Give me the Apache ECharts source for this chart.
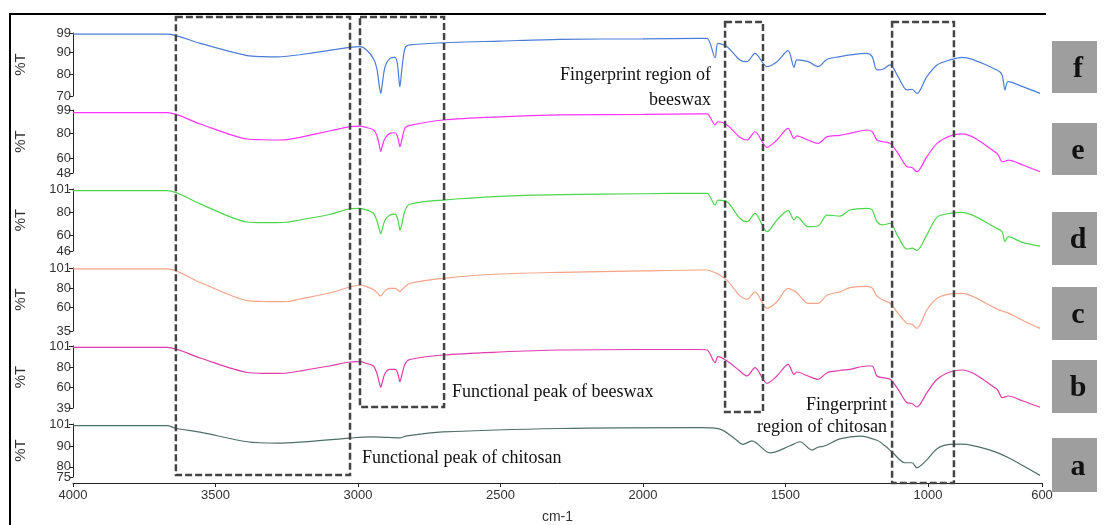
<!DOCTYPE html>
<html>
<head>
<meta charset="utf-8">
<script src="https://cdn.jsdelivr.net/npm/echarts@6/dist/echarts.min.js"></script>
<style>
html,body{margin:0;padding:0;background:#fff;}
#c{width:1110px;height:525px;}
</style>
</head>
<body>
<div id="c"></div>
<script>
// ---- data ----
const wn = [4000,3670,3554,3389,3333,3284,3249,3204,3100,3028,2993,2970,2946,2934,2925,2920,2916,2905,2888,2870,2862,2855,2853,2847,2835,2818,2702,2502,2291,2000,1800,1775,1747,1737,1705,1660,1635,1607,1565,1530,1491,1470,1460,1421,1386,1354,1309,1274,1214,1196,1179,1158,1133,1105,1074,1056,1039,1004,968,923,881,758,740,730,719,667,607];
const specF = [98.5,98.5,94.2,88.6,88.1,88.0,88.3,89.0,91.0,92.4,92.7,91.2,87.3,82.7,74.3,71.2,74.3,83.5,87.3,87.8,85.0,75.8,74.3,81.2,92.0,93.5,94.5,95.3,96.1,96.3,96.5,96.5,87.6,94.2,92.7,86.6,85.8,89.6,83.5,85.8,90.9,83.2,86.6,85.8,83.5,86.9,88.1,88.9,89.6,88.1,82.0,82.3,84.3,78.9,72.8,73.1,71.2,78.9,84.3,86.6,87.8,82.0,79.7,72.8,76.6,74.3,71.2];
const specE = [96.8,96.8,87.7,75.5,74.9,74.7,75.0,76.9,82.0,85.5,86.0,84.8,83.0,78.5,70.0,65.3,69.0,76.1,80.1,80.6,78.0,71.0,69.3,74.0,84.5,86.5,90.9,93.5,95.0,95.5,95.8,95.8,86.9,89.5,86.9,77.0,74.7,81.4,68.8,74.7,84.2,76.1,78.0,74.7,72.0,77.4,78.5,80.1,82.8,81.5,74.7,73.3,72.0,63.9,53.1,52.5,49.0,61.2,72.0,78.0,79.6,63.9,57.1,57.5,58.5,54.5,49.0];
const specD = [99.5,99.5,87.8,71.7,71.1,71.1,71.5,73.5,78.4,83.5,83.9,82.5,79.5,73.0,65.0,61.1,64.5,73.5,77.9,78.8,75.5,67.0,64.6,69.0,82.0,87.5,91.2,94.5,96.0,96.8,97.2,97.2,86.8,91.2,89.7,75.0,72.0,79.4,63.1,73.5,81.8,73.5,76.5,67.6,68.2,77.9,77.0,82.4,83.9,82.4,72.0,69.1,70.6,58.8,47.6,48.5,46.5,60.3,76.0,79.4,80.3,66.1,63.1,54.3,58.7,53.4,50.4];
const specC = [100.0,100.0,85.8,66.9,65.9,65.7,65.9,68.5,74.8,81.1,83.2,81.5,78.5,75.5,72.5,71.7,72.8,77.3,79.7,79.7,78.5,76.8,76.2,78.0,81.4,85.0,90.2,94.7,96.5,98.0,98.9,98.9,96.0,94.7,88.0,72.0,68.2,76.0,58.8,65.7,79.7,77.0,75.1,64.0,64.0,72.7,76.0,80.5,81.8,80.0,71.5,67.5,64.0,53.5,43.0,42.0,37.8,57.0,69.2,73.8,74.5,58.0,56.0,55.0,54.0,46.0,37.8];
const specB = [99.7,99.7,89.0,74.5,73.7,73.7,74.0,76.0,81.0,85.0,85.3,83.5,81.0,74.0,64.0,59.7,63.5,73.7,77.7,77.7,75.0,67.0,65.3,71.0,83.0,87.5,92.0,95.0,97.0,97.5,97.5,97.0,84.3,90.3,86.0,76.0,71.0,79.3,63.7,71.0,82.7,72.7,75.0,71.0,67.7,74.3,76.5,77.7,81.0,81.0,71.0,69.3,67.7,57.7,44.3,43.5,40.0,54.3,67.7,75.0,77.0,57.7,49.3,50.0,51.0,46.0,39.8];
const wnA = [4000,3670,3639,3554,3389,3284,3204,3028,2958,2920,2853,2828,2702,2291,1800,1730,1677,1649,1618,1554,1484,1449,1407,1386,1361,1309,1239,1179,1151,1123,1081,1056,1039,1004,968,923,881,782,712,660,607];
const specA = [100.2,100.2,98.9,97.0,92.3,91.6,92.1,94.1,94.7,94.6,94.2,95.2,97.1,98.8,99.2,98.5,93.7,91.0,92.7,86.8,90.3,92.3,88.2,89.6,90.3,93.7,95.1,93.0,90.3,86.8,82.0,82.0,79.5,83.4,88.9,91.0,91.1,88.2,84.1,80.0,75.8];

const panelLetters = ['f','e','d','c','b','a'];
const yMins = [70,48,46,35,39,75];
const yMaxs = [99,99,101,101,101,101];
const yTicks = [[99,90,80,70],[99,80,60,48],[101,80,60,46],[101,80,60,35],[101,80,60,39],[101,90,80,75]];
const xTicks = [4000,3500,3000,2500,2000,1500,1000,600];
const xName = 'cm-1';
const yName = '%T';
const noteTexts = {
  beeswaxFp: ['Fingerprint region of', 'beeswax'],
  beeswaxFn: 'Functional peak of beeswax',
  chitosanFn: 'Functional peak of chitosan',
  chitosanFp: ['Fingerprint', 'region of chitosan']
};
// regions (wavenumber) for dashed boxes
const regions = [[3639,3028],[2993,2698],[1712,1579],[1126,909]];

// ---- layout / style ----
const colors = ['#4a7cd8','#ff33ff','#4cd64c','#f4a488','#e03aaa','#4f6f6a'];
const gridTops = [33,110,189,268,346,424];
const gridHeights = [63,63,62,63,62,63];
const seriesData = [specF,specE,specD,specC,specB].map(v => wn.map((w,i)=>[w,v[i]]));
seriesData.push(wnA.map((w,i)=>[w,specA[i]]));

const chart = echarts.init(document.getElementById('c'), null, {renderer:'canvas'});
const grids=[], xAxes=[], yAxes=[], series=[];
const labelFont = {fontFamily:'Liberation Sans, Arial', fontSize:13, color:'#333'};
for (let i=0;i<6;i++){
  grids.push({left:73, width:969, top:gridTops[i], height:gridHeights[i]});
  const last = i===5;
  xAxes.push({
    type:'value', gridIndex:i, min:600, max:4000, inverse:true, show:last,
    offset:6,
    name: last? xName:'', nameLocation:'middle', nameGap:27,
    nameTextStyle:{fontFamily:'Liberation Sans, Arial', fontSize:14, color:'#333'},
    axisLine:{show:true, lineStyle:{color:'#222', width:1}},
    axisTick:{show:true, length:4, lineStyle:{color:'#222'}, customValues:xTicks},
    axisLabel:Object.assign({margin:6, customValues:xTicks, formatter: v => String(v)}, labelFont),
    splitLine:{show:false}
  });
  const mainTicks = yTicks[i].filter(v => v !== yMins[i]);
  const minTick = yTicks[i].filter(v => v === yMins[i]);
  // main axis (all ticks except the bottom one)
  yAxes.push({
    type:'value', gridIndex:i, min:yMins[i], max:yMaxs[i],
    name:yName, nameLocation:'middle', nameRotate:90, nameGap:45,
    nameTextStyle:{fontFamily:'Liberation Sans, Arial', fontSize:15, color:'#333'},
    axisLine:{show:true, lineStyle:{color:'#222', width:1}},
    axisTick:{show:true, length:4, lineStyle:{color:'#222'}, customValues:mainTicks},
    axisLabel:Object.assign({margin:2, customValues:mainTicks, showMinLabel:true, showMaxLabel:true, formatter: v => String(v)}, labelFont),
    splitLine:{show:false}
  });
  series.push({
    type:'line', xAxisIndex:i, yAxisIndex:yAxes.length-1, data:seriesData[i],
    showSymbol:false, symbol:'none', smooth:0.3,
    lineStyle:{color:colors[i], width:1.2}, itemStyle:{color:colors[i]}, silent:true
  });
  // companion axis carrying only the bottom tick label
  yAxes.push({
    type:'value', gridIndex:i, min:yMins[i], max:yMaxs[i], position:'left',
    axisLine:{show:false},
    axisTick:{show:true, length:4, lineStyle:{color:'#222'}, customValues:minTick},
    axisLabel:Object.assign({margin:2, customValues:minTick, showMinLabel:true, formatter: v => String(v)}, labelFont),
    splitLine:{show:false}
  });
}
chart.setOption({animation:false, backgroundColor:'#fff', grid:grids, xAxis:xAxes, yAxis:yAxes, series:series});

// ---- annotations ----
const px = v => chart.convertToPixel({xAxisIndex:5}, v);
const boxY = [[17,475],[17,407],[22,412],[22,483]];
const g = [];
g.push({type:'polyline', z:100, shape:{points:[[1046,14],[10,14],[10,525]]}, style:{stroke:'#000', lineWidth:2, fill:null}});
regions.forEach((r,k)=>{
  const x1 = px(r[0]), x2 = px(r[1]);
  g.push({type:'rect', z:100, shape:{x:x1, y:boxY[k][0], width:x2-x1, height:boxY[k][1]-boxY[k][0]},
    style:{fill:null, stroke:'#444', lineWidth:2.5, lineDash:[7,3]}});
});
const letterBoxes = [[41,93],[123,175],[212,265],[287,340],[360,413],[438,492]];
letterBoxes.forEach((b,k)=>{
  g.push({type:'rect', z:100, shape:{x:1052, y:b[0], width:45, height:b[1]-b[0]}, style:{fill:'#9e9e9e'}});
  g.push({type:'text', z:101, x:1078, y:(b[0]+b[1])/2+2, style:{text:panelLetters[k], font:'bold 30px "Liberation Serif", "Times New Roman", serif', fill:'#111', align:'center', verticalAlign:'middle'}});
});
const serif = '18px "Liberation Serif", "Times New Roman", serif';
function txt(s,x,y,align){ g.push({type:'text', z:102, x:x, y:y, style:{text:s, font:serif, fill:'#111', align:align, verticalAlign:'middle'}}); }
txt(noteTexts.beeswaxFp[0], 711, 75, 'right');
txt(noteTexts.beeswaxFp[1], 711, 100, 'right');
txt(noteTexts.beeswaxFn, 452, 392, 'left');
txt(noteTexts.chitosanFn, 362, 458, 'left');
txt(noteTexts.chitosanFp[0], 887, 405, 'right');
txt(noteTexts.chitosanFp[1], 887, 427, 'right');
chart.setOption({graphic:g});
</script>
</body>
</html>
